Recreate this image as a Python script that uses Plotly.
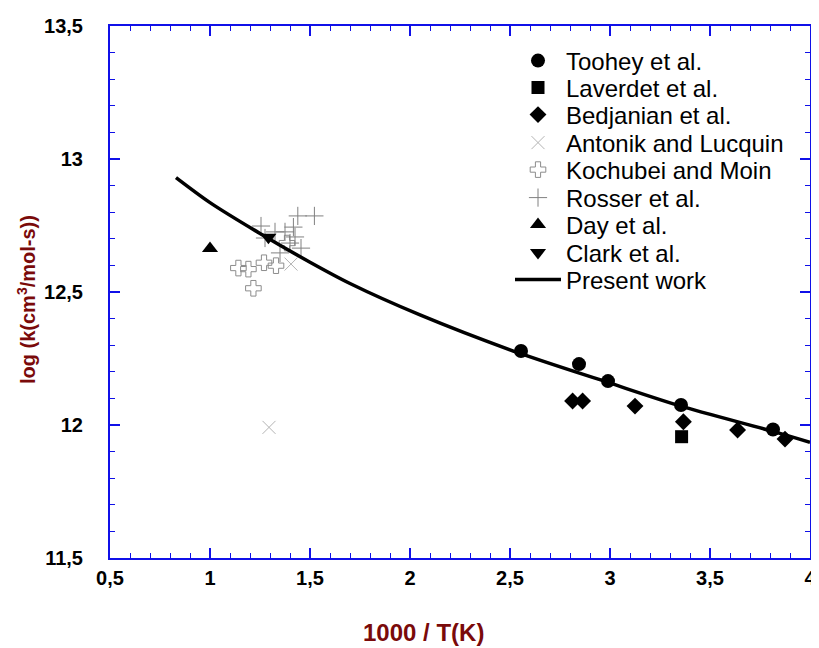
import plotly.graph_objects as go

# ---- data ----
toohey_x = [2.555, 2.845, 2.99, 3.355, 3.815]
toohey_y = [12.278, 12.229, 12.165, 12.075, 11.983]

laverdet_x = [3.358]
laverdet_y = [11.956]

bedjanian_x = [2.813, 2.863, 3.125, 3.367, 3.638, 3.875]
bedjanian_y = [12.090, 12.090, 12.071, 12.012, 11.981, 11.947]

antonik_x = [1.295, 1.405]
antonik_y = [11.991, 12.605]

kochubei_x = [1.142, 1.192, 1.270, 1.330, 1.217, 1.385]
kochubei_y = [12.590, 12.586, 12.610, 12.599, 12.514, 12.684]

rosser_x = [1.255, 1.439, 1.522, 1.417, 1.375, 1.425, 1.325, 1.400, 1.455, 1.350, 1.275]
rosser_y = [12.748, 12.786, 12.786, 12.744, 12.726, 12.707, 12.726, 12.684, 12.665, 12.647, 12.703]

day_x = [1.0]
day_y = [12.664]

clark_x = [1.292]
clark_y = [12.706]

present_x = [0.83, 1.0, 1.25, 1.5, 1.7, 2.05, 2.54, 2.99, 3.35, 3.815, 4.0]
present_y = [12.930, 12.836, 12.720, 12.612, 12.532, 12.414, 12.272, 12.160, 12.072, 11.976, 11.935]

BLUE = "#1010e8"
DARKRED = "#7a0a0a"

# figure geometry (page body adds an 8px offset in the browser)
OFF = 8
W, H = 811, 640
ML, MR, MT, MB = 102, 9, 18, 90
PW, PH = W - ML - MR, H - MT - MB

def fx(px):  # screen px -> paper fraction (x)
    return (px - OFF - ML) / PW

def fy(py):  # screen px -> paper fraction (y)
    return (MT + PH - (py - OFF)) / PH

legend_rows = [61, 88, 115, 143, 170, 198, 225, 253, 280]

fig = go.Figure()
count = [0]

def legname():
    count[0] += 1
    return "legend" if count[0] == 1 else f"legend{count[0]}"

def pts(name, x, y, symbol, size, color, lw=0):
    fig.add_trace(go.Scatter(
        x=x, y=y, mode="markers", name=name, legend=legname(),
        marker=dict(symbol=symbol, size=size, color=color,
                    line=dict(width=lw, color=color)),
    ))

pts("Toohey et al.", toohey_x, toohey_y, "circle", 14, "black")
pts("Laverdet et al.", laverdet_x, laverdet_y, "square", 13, "black")
pts("Bedjanian et al.", bedjanian_x, bedjanian_y, "diamond", 13, "black")
pts("Antonik and Lucquin", antonik_x, antonik_y, "x-thin-open", 13, "#b4b4b4", 1)
pts("Kochubei and Moin", kochubei_x, kochubei_y, "cross-open", 13, "#8c8c8c", 1)
pts("Rosser et al.", rosser_x, rosser_y, "cross-thin-open", 13, "#808080", 1)
pts("Day et al.", day_x, day_y, "triangle-up", 14, "black")
pts("Clark et al.", clark_x, clark_y, "triangle-down", 14, "black")

fig.add_trace(go.Scatter(
    x=present_x, y=present_y, mode="lines", name="Present work", legend=legname(),
    line=dict(color="black", width=3.5, shape="spline", smoothing=0.8),
))

axis_common = dict(
    showgrid=False, zeroline=False, automargin=False,
    showline=True, linecolor=BLUE, linewidth=2, mirror="ticks",
    ticks="inside", ticklen=10, tickwidth=1.5, tickcolor=BLUE,
    tickfont=dict(family="Liberation Sans, Arial", size=20, color="black", weight="bold"),
)

fig.update_xaxes(
    range=[0.5, 4], dtick=0.5, tick0=0.5,
    minor=dict(ticks="inside", dtick=0.1, ticklen=5, tickwidth=1.2, tickcolor=BLUE),
    ticklabelstandoff=1,
    **axis_common,
)
fig.update_yaxes(
    range=[11.5, 13.5], dtick=0.5, tick0=11.5,
    minor=dict(ticks="inside", dtick=0.1, ticklen=5, tickwidth=1.2, tickcolor=BLUE),
    ticklabelstandoff=21,
    **axis_common,
)

fig.add_annotation(
    text="1000 / T(K)", xref="paper", yref="paper",
    x=fx(423), y=fy(632),
    showarrow=False, xanchor="center", yanchor="middle",
    font=dict(family="Liberation Sans, Arial", size=24, color=DARKRED, weight="bold"),
)
fig.add_annotation(
    text="log (k(cm<sup>3</sup>/mol-s))", xref="paper", yref="paper",
    x=fx(26), y=fy(300), textangle=-90,
    showarrow=False, xanchor="center", yanchor="middle",
    font=dict(family="Liberation Sans, Arial", size=20, color=DARKRED, weight="bold"),
)

legends = {}
for i, row in enumerate(legend_rows):
    key = "legend" if i == 0 else f"legend{i + 1}"
    legends[key] = dict(
        x=fx(510), y=fy(row), xanchor="left", yanchor="middle",
        bgcolor="rgba(0,0,0,0)", borderwidth=0,
        font=dict(family="Liberation Sans, Arial", size=24, color="black"),
        itemwidth=46,
    )

fig.update_layout(
    width=W, height=H,
    margin=dict(l=ML, r=MR, t=MT, b=MB),
    paper_bgcolor="white", plot_bgcolor="white",
    separators=",.",
    showlegend=True,
    **legends,
)

fig.write_html("out.html")
